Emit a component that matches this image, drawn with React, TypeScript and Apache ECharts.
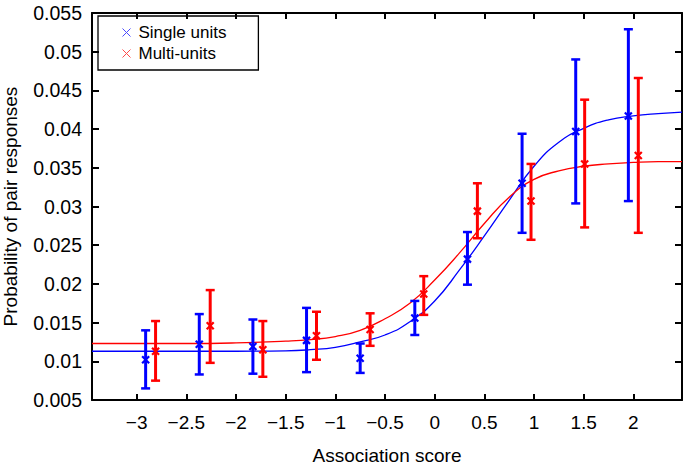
import React, { useEffect, useRef } from "react";
import * as echarts from "echarts";

// Single units: x, mean, lower, upper
const singleX = [-2.91, -2.37, -1.83, -1.29, -0.75, -0.2, 0.33, 0.88, 1.42, 1.95];
const singleY = [0.0102, 0.0122, 0.0119, 0.0127, 0.0104, 0.0156, 0.0232, 0.033, 0.0397, 0.0417];
const singleLow = [0.0065, 0.0083, 0.0084, 0.0086, 0.0085, 0.0134, 0.0199, 0.0266, 0.0304, 0.0307];
const singleHigh = [0.014, 0.0161, 0.0154, 0.0169, 0.0123, 0.0178, 0.0267, 0.0394, 0.049, 0.0529];

// Multi-units
const multiX = [-2.81, -2.26, -1.73, -1.19, -0.65, -0.11, 0.43, 0.97, 1.51, 2.05];
const multiY = [0.0113, 0.0146, 0.0115, 0.0133, 0.0141, 0.0187, 0.0294, 0.0307, 0.0355, 0.0366];
const multiLow = [0.0075, 0.0098, 0.008, 0.0102, 0.012, 0.016, 0.0259, 0.0257, 0.0273, 0.0266];
const multiHigh = [0.0152, 0.0192, 0.0152, 0.0164, 0.0162, 0.021, 0.033, 0.0355, 0.0438, 0.0466];

// Fitted curves
const fitX = [-3.45, -3.0, -2.5, -2.0, -1.5, -1.25, -1.0, -0.75, -0.5, -0.25, 0, 0.25, 0.5, 0.75, 1.0, 1.25, 1.5, 1.75, 2.0, 2.25, 2.49];
const singleFitY = [0.0113, 0.0113, 0.0113, 0.0113, 0.01135, 0.0115, 0.0118, 0.0125, 0.0134, 0.0151, 0.0178, 0.0218, 0.0262, 0.0308, 0.0352, 0.0383, 0.0401, 0.0412, 0.0417, 0.042, 0.0422];
const multiFitY = [0.0123, 0.0123, 0.0123, 0.01238, 0.0126, 0.0128, 0.0132, 0.014, 0.0155, 0.0175, 0.0205, 0.024, 0.0278, 0.0312, 0.0335, 0.0346, 0.0352, 0.0355, 0.0357, 0.0358, 0.0358];

const xTicks = [-3, -2.5, -2, -1.5, -1, -0.5, 0, 0.5, 1, 1.5, 2];

const BLUE = "#0000ff";
const RED = "#ff0000";
const FONT = "'Liberation Sans', Arial, Helvetica, sans-serif";

function makeErrRender(color: string) {
  return (params: any, api: any) => {
    const x = api.value(0);
    const p = api.coord([x, api.value(1)]);
    const lo = api.coord([x, api.value(2)]);
    const hi = api.coord([x, api.value(3)]);
    const cap = 4.5;
    const m = 3.5;
    const st = { stroke: color, lineWidth: 3 };
    const stm = { stroke: color, lineWidth: 2.2 };
    return {
      type: "group",
      children: [
        { type: "line", shape: { x1: lo[0], y1: lo[1], x2: hi[0], y2: hi[1] }, style: st },
        { type: "line", shape: { x1: hi[0] - cap, y1: hi[1], x2: hi[0] + cap, y2: hi[1] }, style: { stroke: color, lineWidth: 2.5 } },
        { type: "line", shape: { x1: lo[0] - cap, y1: lo[1], x2: lo[0] + cap, y2: lo[1] }, style: { stroke: color, lineWidth: 2.5 } },
        { type: "line", shape: { x1: p[0] - m, y1: p[1] - m, x2: p[0] + m, y2: p[1] + m }, style: stm },
        { type: "line", shape: { x1: p[0] - m, y1: p[1] + m, x2: p[0] + m, y2: p[1] - m }, style: stm },
      ],
    };
  };
}

export default function App() {
  const ref = useRef<HTMLDivElement>(null);
  useEffect(() => {
    if (!ref.current) return;
    const chart = echarts.init(ref.current, null, { renderer: "svg" });
    const singleData = singleX.map((x, i) => [x, singleY[i], singleLow[i], singleHigh[i]]);
    const multiData = multiX.map((x, i) => [x, multiY[i], multiLow[i], multiHigh[i]]);
    const axisLine = { show: true, onZero: false, lineStyle: { color: "#000", width: 2 } };
    const xCommon = {
      type: "value",
      min: -3.45,
      max: 2.49,
      splitLine: { show: false },
      axisLine,
    };
    const yCommon = {
      type: "value",
      min: 0.005,
      max: 0.055,
      interval: 0.005,
      splitLine: { show: false },
      axisLine,
    };
    chart.setOption({
      animation: false,
      backgroundColor: "#fff",
      textStyle: { fontFamily: FONT },
      grid: { left: 92, right: 3, top: 13, bottom: 67, containLabel: false, outerBoundsMode: "none" },
      legend: {
        orient: "vertical",
        left: 98,
        top: 16,
        padding: [8, 32, 8, 22],
        itemGap: 4,
        itemWidth: 8,
        itemHeight: 8,
        borderColor: "#000",
        borderWidth: 1.3,
        textStyle: { fontSize: 17, color: "#000", fontFamily: FONT, padding: [0, 0, 0, 3] },
        data: [
          { name: "Single units", icon: "path://M0,0L10,10M10,0L0,10", itemStyle: { color: "none", borderColor: "#4a4aff", borderWidth: 1 } },
          { name: "Multi-units", icon: "path://M0,0L10,10M10,0L0,10", itemStyle: { color: "none", borderColor: "#ff4a4a", borderWidth: 1 } },
        ],
      },
      xAxis: [
        {
          ...xCommon,
          position: "bottom",
          name: "Association score",
          nameLocation: "middle",
          nameGap: 46,
          nameTextStyle: { fontSize: 19, color: "#000", fontFamily: FONT },
          axisTick: { show: true, inside: true, length: 6, customValues: xTicks, lineStyle: { color: "#000", width: 2 } },
          axisLabel: {
            show: true,
            margin: 13,
            fontSize: 19,
            color: "#000",
            fontFamily: FONT,
            customValues: xTicks,
            formatter: (v: number) => String(v).replace("-", "\u2212"),
          },
        },
        {
          ...xCommon,
          position: "top",
          axisTick: { show: true, inside: true, length: 6, customValues: xTicks, lineStyle: { color: "#000", width: 2 } },
          axisLabel: { show: false },
        },
      ],
      yAxis: [
        {
          ...yCommon,
          position: "left",
          name: "Probability of pair responses",
          nameLocation: "middle",
          nameGap: 72,
          nameTextStyle: { fontSize: 19, color: "#000", fontFamily: FONT },
          axisTick: { show: true, inside: true, length: 7, lineStyle: { color: "#000", width: 2 } },
          axisLabel: {
            margin: 10,
            fontSize: 19.5,
            color: "#000",
            fontFamily: FONT,
            formatter: (v: number) => String(+v.toFixed(3)),
          },
        },
        {
          ...yCommon,
          position: "right",
          axisTick: { show: true, inside: true, length: 7, lineStyle: { color: "#000", width: 2 } },
          axisLabel: { show: false },
        },
      ],
      series: [
        {
          name: "Single fit",
          type: "line",
          smooth: true,
          symbol: "none",
          data: fitX.map((x, i) => [x, singleFitY[i]]),
          lineStyle: { color: BLUE, width: 1.3 },
          itemStyle: { color: BLUE },
          z: 2,
        },
        {
          name: "Multi fit",
          type: "line",
          smooth: true,
          symbol: "none",
          data: fitX.map((x, i) => [x, multiFitY[i]]),
          lineStyle: { color: RED, width: 1.3 },
          itemStyle: { color: RED },
          z: 2,
        },
        {
          name: "Single units",
          type: "custom",
          renderItem: makeErrRender(BLUE),
          encode: { x: 0, y: 1 },
          data: singleData,
          itemStyle: { color: BLUE },
          z: 3,
        },
        {
          name: "Multi-units",
          type: "custom",
          renderItem: makeErrRender(RED),
          encode: { x: 0, y: 1 },
          data: multiData,
          itemStyle: { color: RED },
          z: 3,
        },
      ],
    });
    return () => chart.dispose();
  }, []);
  return (
    <div
      ref={ref}
      style={{ position: "absolute", left: 0, top: 0, width: 685, height: 467, background: "#fff" }}
    />
  );
}
